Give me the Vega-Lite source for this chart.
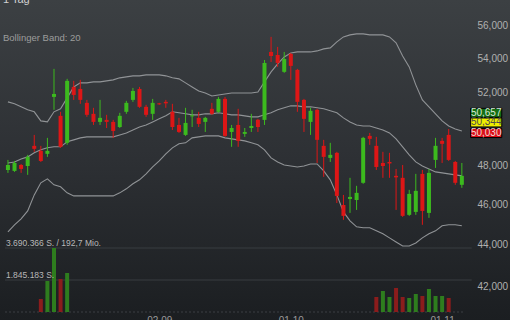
{
"$schema": "https://vega.github.io/schema/vega-lite/v6.json",
"width": 510, "height": 320, "autosize": {"type": "none"}, "padding": 0,
"background": "#1f2225",
"config": {"view": {"stroke": null, "fill": {"gradient": "linear", "x1": 0, "y1": 0, "x2": 0, "y2": 1, "stops": [{"offset": 0, "color": "#3c4043"}, {"offset": 0.5, "color": "#2d3034"}, {"offset": 1, "color": "#1b1e21"}]}}, "font": "Liberation Sans"},
"title": {"text": "1 Tag", "subtitle": "Bollinger Band: 20", "anchor": "start", "frame": "group", "offset": -42, "dx": 3, "fontSize": 11, "fontWeight": "normal", "color": "#d0d0d0", "subtitleColor": "#9c9c9c", "subtitleFontSize": 9.5, "subtitlePadding": 28, "font": "Liberation Sans", "subtitleFont": "Liberation Sans"},
"datasets": {
"candles": [
{"i":0,"o":47762,"h":48289,"l":47607,"c":48020,"u":51468,"m":48128,"b":44622},
{"i":1,"o":47710,"h":48235,"l":47659,"c":48128,"u":51356,"m":48182,"b":44968},
{"i":2,"o":48020,"h":48074,"l":47607,"c":47814,"u":51188,"m":48343,"b":45264},
{"i":3,"o":47969,"h":48558,"l":47504,"c":48451,"u":51020,"m":48451,"b":45659},
{"i":4,"o":49042,"h":49634,"l":48720,"c":48881,"u":50908,"m":48666,"b":46469},
{"i":5,"o":48773,"h":49042,"l":48182,"c":48235,"u":50404,"m":48827,"b":47090},
{"i":6,"o":48612,"h":49473,"l":48451,"c":48773,"u":50348,"m":48935,"b":47297},
{"i":7,"o":51748,"h":53367,"l":51020,"c":51916,"u":50908,"m":48989,"b":46987},
{"i":8,"o":50684,"h":50908,"l":48935,"c":48989,"u":51076,"m":48989,"b":46883},
{"i":9,"o":49204,"h":52786,"l":49096,"c":52669,"u":51692,"m":49258,"b":46573},
{"i":10,"o":52320,"h":52669,"l":51580,"c":51860,"u":52320,"m":49365,"b":46418},
{"i":11,"o":52204,"h":52727,"l":51356,"c":51580,"u":52553,"m":49473,"b":46418},
{"i":12,"o":51412,"h":51580,"l":50628,"c":50740,"u":52553,"m":49527,"b":46418},
{"i":13,"o":50796,"h":51132,"l":50180,"c":50348,"u":52611,"m":49527,"b":46418},
{"i":14,"o":50348,"h":51580,"l":50180,"c":50572,"u":52611,"m":49527,"b":46418},
{"i":15,"o":50460,"h":50740,"l":50012,"c":50348,"u":52669,"m":49527,"b":46418},
{"i":16,"o":50348,"h":50460,"l":49473,"c":49849,"u":52727,"m":49527,"b":46418},
{"i":17,"o":50068,"h":50852,"l":50012,"c":50684,"u":52844,"m":49634,"b":46573},
{"i":18,"o":50908,"h":51524,"l":50796,"c":51412,"u":52902,"m":49742,"b":46780},
{"i":19,"o":51580,"h":52262,"l":51468,"c":52088,"u":52960,"m":49903,"b":47038},
{"i":20,"o":52204,"h":52320,"l":51132,"c":51188,"u":52960,"m":50068,"b":47245},
{"i":21,"o":51188,"h":51300,"l":50628,"c":50740,"u":53018,"m":50180,"b":47555},
{"i":22,"o":50796,"h":51636,"l":50460,"c":51412,"u":53018,"m":50348,"b":47917},
{"i":23,"o":51384,"h":51412,"l":51300,"c":51328,"u":53018,"m":50516,"b":48235},
{"i":24,"o":51468,"h":51580,"l":51132,"c":51384,"u":52960,"m":50684,"b":48612},
{"i":25,"o":50908,"h":51356,"l":49903,"c":50068,"u":52844,"m":50908,"b":48935},
{"i":26,"o":50180,"h":50572,"l":49742,"c":49795,"u":52786,"m":50852,"b":49150},
{"i":27,"o":49634,"h":51132,"l":49580,"c":50292,"u":52553,"m":50796,"b":49204},
{"i":28,"o":50656,"h":51020,"l":50068,"c":50712,"u":52320,"m":50740,"b":49473},
{"i":29,"o":50572,"h":50908,"l":50068,"c":50236,"u":52088,"m":50740,"b":49527},
{"i":30,"o":50348,"h":50628,"l":49795,"c":50572,"u":51972,"m":50796,"b":49580},
{"i":31,"o":51076,"h":51412,"l":50740,"c":50796,"u":51804,"m":50796,"b":49580},
{"i":32,"o":50908,"h":51748,"l":50852,"c":51636,"u":51860,"m":50852,"b":49580},
{"i":33,"o":51636,"h":51748,"l":49527,"c":49580,"u":51916,"m":50796,"b":49473},
{"i":34,"o":49795,"h":50180,"l":48989,"c":50012,"u":51972,"m":50740,"b":49419},
{"i":35,"o":50180,"h":51076,"l":48989,"c":49311,"u":51972,"m":50740,"b":49365},
{"i":36,"o":49688,"h":50012,"l":49527,"c":49795,"u":51972,"m":50684,"b":49311},
{"i":37,"o":50012,"h":50796,"l":49795,"c":50124,"u":51972,"m":50628,"b":49204},
{"i":38,"o":50460,"h":50516,"l":49795,"c":50068,"u":52030,"m":50628,"b":49096},
{"i":39,"o":50460,"h":53890,"l":50180,"c":53715,"u":52611,"m":50740,"b":48827},
{"i":40,"o":54369,"h":55275,"l":53773,"c":54127,"u":53192,"m":50852,"b":48397},
{"i":41,"o":54188,"h":54671,"l":53483,"c":53715,"u":53657,"m":51020,"b":48182},
{"i":42,"o":53192,"h":54369,"l":53134,"c":53948,"u":54067,"m":51132,"b":48020},
{"i":43,"o":54248,"h":54309,"l":52727,"c":53541,"u":54309,"m":51244,"b":47969},
{"i":44,"o":53309,"h":53367,"l":50908,"c":51468,"u":54369,"m":51244,"b":47917},
{"i":45,"o":51580,"h":51636,"l":49795,"c":50516,"u":54369,"m":51188,"b":47969},
{"i":46,"o":50348,"h":51132,"l":49634,"c":50964,"u":54369,"m":51188,"b":48074},
{"i":47,"o":51020,"h":51076,"l":48128,"c":49365,"u":54430,"m":51132,"b":48074},
{"i":48,"o":49042,"h":49365,"l":47400,"c":48451,"u":54550,"m":51076,"b":47710},
{"i":49,"o":48397,"h":49204,"l":48182,"c":48558,"u":54611,"m":50964,"b":47245},
{"i":50,"o":48666,"h":48720,"l":46056,"c":46418,"u":54973,"m":50852,"b":46469},
{"i":51,"o":45956,"h":46469,"l":45215,"c":45412,"u":55275,"m":50572,"b":45610},
{"i":52,"o":46263,"h":47349,"l":45560,"c":46366,"u":55396,"m":50348,"b":45165},
{"i":53,"o":46211,"h":46935,"l":45709,"c":46573,"u":55456,"m":50180,"b":44869},
{"i":54,"o":47090,"h":49527,"l":47038,"c":49473,"u":55456,"m":50124,"b":44820},
{"i":55,"o":49580,"h":49742,"l":49096,"c":49419,"u":55396,"m":50124,"b":44820},
{"i":56,"o":49042,"h":49527,"l":47762,"c":47917,"u":55396,"m":50012,"b":44672},
{"i":57,"o":48128,"h":48720,"l":47349,"c":47969,"u":55396,"m":49903,"b":44524},
{"i":58,"o":48182,"h":48666,"l":47349,"c":48101,"u":55275,"m":49742,"b":44326},
{"i":59,"o":47452,"h":47814,"l":45709,"c":47374,"u":54913,"m":49419,"b":44128},
{"i":60,"o":47349,"h":48020,"l":45363,"c":45412,"u":54127,"m":48989,"b":43934},
{"i":61,"o":45462,"h":46728,"l":45412,"c":46521,"u":53483,"m":48558,"b":43934},
{"i":62,"o":45610,"h":47555,"l":45462,"c":46676,"u":52437,"m":48182,"b":44079},
{"i":63,"o":47555,"h":47762,"l":44968,"c":45659,"u":51580,"m":47969,"b":44326},
{"i":64,"o":45560,"h":47814,"l":45313,"c":47607,"u":51188,"m":47814,"b":44524},
{"i":65,"o":48289,"h":49473,"l":47866,"c":49042,"u":50796,"m":47659,"b":44672},
{"i":66,"o":49311,"h":49473,"l":48128,"c":49150,"u":50404,"m":47607,"b":44919},
{"i":67,"o":49634,"h":49957,"l":48235,"c":48289,"u":50124,"m":47555,"b":44968},
{"i":68,"o":48182,"h":48235,"l":46987,"c":47090,"u":49957,"m":47504,"b":44968},
{"i":69,"o":46987,"h":48128,"l":46831,"c":47452,"u":49849,"m":47452,"b":44919}
],
"vol": [
{"i":5,"v":749600,"d":"down"},{"i":6,"v":1787500,"d":"up"},{"i":7,"v":3690366,"d":"up"},{"i":8,"v":1902800,"d":"down"},{"i":9,"v":2248800,"d":"up"},
{"i":56,"v":864900,"d":"down"},{"i":57,"v":1210900,"d":"up"},{"i":58,"v":864900,"d":"up"},{"i":59,"v":1383900,"d":"down"},{"i":60,"v":864900,"d":"down"},{"i":61,"v":807300,"d":"up"},{"i":62,"v":1037900,"d":"up"},{"i":63,"v":922600,"d":"down"},{"i":64,"v":1326200,"d":"up"},{"i":65,"v":922600,"d":"up"},{"i":66,"v":922600,"d":"up"},{"i":67,"v":807300,"d":"down"}
],
"vlines": [
{"v":3690366,"t":"3.690.366 S. / 192,7 Mio.","x0":-0.447,"x1":70.5},{"v":1845183,"t":"1.845.183 S.","x0":-0.447,"x1":70.5}
]
},
"layer": [
{"data": {"name": "candles"}, "layer": [
 {"mark": {"type": "line", "color": "#909396", "strokeWidth": 1.1},
  "encoding": {
   "x": {"field": "i", "type": "quantitative", "scale": {"domain": [-0.447, 75.56], "nice": false, "zero": false}, "axis": {"values": [23, 43, 66], "labelExpr": "datum.value == 23 ? '02.09' : datum.value == 43 ? '01.10' : '01.11'", "orient": "bottom", "offset": -5, "labelPadding": 0, "labelBaseline": "top", "domain": false, "ticks": false, "grid": false, "labelColor": "#9a9a9a", "labelFontSize": 10, "title": null, "labelFlush": false, "labelOverlap": false}},
   "y": {"field": "u", "type": "quantitative", "scale": {"type": "log", "domain": [40505, 57559], "nice": false, "zero": false}, "axis": {"orient": "right", "offset": -44, "labelPadding": 11, "values": [42000, 44000, 46000, 48000, 52000, 54000, 56000], "format": ",d", "domain": false, "ticks": false, "grid": false, "labelColor": "#b0b0b0", "labelFontSize": 10, "title": null, "labelFlush": false, "labelOverlap": false}}}},
 {"mark": {"type": "line", "color": "#909396", "strokeWidth": 1.1},
  "encoding": {
   "x": {"field": "i", "type": "quantitative", "scale": {"domain": [-0.447, 75.56], "nice": false, "zero": false}, "axis": {"values": [23, 43, 66], "labelExpr": "datum.value == 23 ? '02.09' : datum.value == 43 ? '01.10' : '01.11'", "orient": "bottom", "offset": -5, "labelPadding": 0, "labelBaseline": "top", "domain": false, "ticks": false, "grid": false, "labelColor": "#9a9a9a", "labelFontSize": 10, "title": null, "labelFlush": false, "labelOverlap": false}},
   "y": {"field": "m", "type": "quantitative", "scale": {"type": "log", "domain": [40505, 57559], "nice": false, "zero": false}, "axis": {"orient": "right", "offset": -44, "labelPadding": 11, "values": [42000, 44000, 46000, 48000, 52000, 54000, 56000], "format": ",d", "domain": false, "ticks": false, "grid": false, "labelColor": "#b0b0b0", "labelFontSize": 10, "title": null, "labelFlush": false, "labelOverlap": false}}}},
 {"mark": {"type": "line", "color": "#909396", "strokeWidth": 1.1},
  "encoding": {
   "x": {"field": "i", "type": "quantitative", "scale": {"domain": [-0.447, 75.56], "nice": false, "zero": false}, "axis": {"values": [23, 43, 66], "labelExpr": "datum.value == 23 ? '02.09' : datum.value == 43 ? '01.10' : '01.11'", "orient": "bottom", "offset": -5, "labelPadding": 0, "labelBaseline": "top", "domain": false, "ticks": false, "grid": false, "labelColor": "#9a9a9a", "labelFontSize": 10, "title": null, "labelFlush": false, "labelOverlap": false}},
   "y": {"field": "b", "type": "quantitative", "scale": {"type": "log", "domain": [40505, 57559], "nice": false, "zero": false}, "axis": {"orient": "right", "offset": -44, "labelPadding": 11, "values": [42000, 44000, 46000, 48000, 52000, 54000, 56000], "format": ",d", "domain": false, "ticks": false, "grid": false, "labelColor": "#b0b0b0", "labelFontSize": 10, "title": null, "labelFlush": false, "labelOverlap": false}}}},
 {"mark": {"type": "rule", "strokeWidth": 1},
  "encoding": {
   "x": {"field": "i", "type": "quantitative", "scale": {"domain": [-0.447, 75.56], "nice": false, "zero": false}, "axis": {"values": [23, 43, 66], "labelExpr": "datum.value == 23 ? '02.09' : datum.value == 43 ? '01.10' : '01.11'", "orient": "bottom", "offset": -5, "labelPadding": 0, "labelBaseline": "top", "domain": false, "ticks": false, "grid": false, "labelColor": "#9a9a9a", "labelFontSize": 10, "title": null, "labelFlush": false, "labelOverlap": false}},
   "y": {"field": "l", "type": "quantitative", "scale": {"type": "log", "domain": [40505, 57559], "nice": false, "zero": false}, "axis": {"orient": "right", "offset": -44, "labelPadding": 11, "values": [42000, 44000, 46000, 48000, 52000, 54000, 56000], "format": ",d", "domain": false, "ticks": false, "grid": false, "labelColor": "#b0b0b0", "labelFontSize": 10, "title": null, "labelFlush": false, "labelOverlap": false}},
   "y2": {"field": "h"},
   "color": {"condition": {"test": "datum.c >= datum.o", "value": "#3cba1e"}, "value": "#dd1616"}}},
 {"mark": {"type": "bar", "width": 4},
  "encoding": {
   "x": {"field": "i", "type": "quantitative", "scale": {"domain": [-0.447, 75.56], "nice": false, "zero": false}, "axis": {"values": [23, 43, 66], "labelExpr": "datum.value == 23 ? '02.09' : datum.value == 43 ? '01.10' : '01.11'", "orient": "bottom", "offset": -5, "labelPadding": 0, "labelBaseline": "top", "domain": false, "ticks": false, "grid": false, "labelColor": "#9a9a9a", "labelFontSize": 10, "title": null, "labelFlush": false, "labelOverlap": false}},
   "y": {"field": "o", "type": "quantitative", "scale": {"type": "log", "domain": [40505, 57559], "nice": false, "zero": false}, "axis": {"orient": "right", "offset": -44, "labelPadding": 11, "values": [42000, 44000, 46000, 48000, 52000, 54000, 56000], "format": ",d", "domain": false, "ticks": false, "grid": false, "labelColor": "#b0b0b0", "labelFontSize": 10, "title": null, "labelFlush": false, "labelOverlap": false}},
   "y2": {"field": "c"},
   "color": {"condition": {"test": "datum.c >= datum.o", "value": "#3cba1e"}, "value": "#dd1616"}}},
 {"data": {"values": [{"p":50657,"t":"50,657"},{"p":50344,"t":"50,344"},{"p":50030,"t":"50,030"}]},
  "layer": [
   {"mark": {"type": "rect", "stroke": "#000000", "strokeWidth": 1,
     "yOffset": {"expr": "datum.p == 50657 ? -8 : datum.p == 50344 ? -4 : 0.9"},
     "y2Offset": {"expr": "datum.p == 50657 ? 1 : datum.p == 50344 ? 5 : 9.9"},
     "fill": {"expr": "datum.p == 50657 ? '#146e14' : datum.p == 50344 ? '#eeee00' : '#dc1018'"}},
    "encoding": {
     "x": {"datum": 70.34, "type": "quantitative", "scale": {"domain": [-0.447, 75.56], "nice": false, "zero": false}, "axis": {"values": [23, 43, 66], "labelExpr": "datum.value == 23 ? '02.09' : datum.value == 43 ? '01.10' : '01.11'", "orient": "bottom", "offset": -5, "labelPadding": 0, "labelBaseline": "top", "domain": false, "ticks": false, "grid": false, "labelColor": "#9a9a9a", "labelFontSize": 10, "title": null, "labelFlush": false, "labelOverlap": false}},
     "x2": {"datum": 75.07},
     "y": {"field": "p", "type": "quantitative", "scale": {"type": "log", "domain": [40505, 57559], "nice": false, "zero": false}, "axis": {"orient": "right", "offset": -44, "labelPadding": 11, "values": [42000, 44000, 46000, 48000, 52000, 54000, 56000], "format": ",d", "domain": false, "ticks": false, "grid": false, "labelColor": "#b0b0b0", "labelFontSize": 10, "title": null, "labelFlush": false, "labelOverlap": false}},
     "y2": {"field": "p"}}},
   {"mark": {"type": "text", "fontSize": 10, "baseline": "middle", "align": "center",
     "dy": {"expr": "datum.p == 50657 ? -3.5 : datum.p == 50344 ? 0.5 : 5.4"},
     "fill": {"expr": "datum.p == 50657 ? '#d8e8d8' : datum.p == 50344 ? '#4a4a4a' : '#f2d6d6'"}},
    "encoding": {
     "x": {"datum": 72.7, "type": "quantitative", "scale": {"domain": [-0.447, 75.56], "nice": false, "zero": false}, "axis": {"values": [23, 43, 66], "labelExpr": "datum.value == 23 ? '02.09' : datum.value == 43 ? '01.10' : '01.11'", "orient": "bottom", "offset": -5, "labelPadding": 0, "labelBaseline": "top", "domain": false, "ticks": false, "grid": false, "labelColor": "#9a9a9a", "labelFontSize": 10, "title": null, "labelFlush": false, "labelOverlap": false}},
     "y": {"field": "p", "type": "quantitative", "scale": {"type": "log", "domain": [40505, 57559], "nice": false, "zero": false}, "axis": {"orient": "right", "offset": -44, "labelPadding": 11, "values": [42000, 44000, 46000, 48000, 52000, 54000, 56000], "format": ",d", "domain": false, "ticks": false, "grid": false, "labelColor": "#b0b0b0", "labelFontSize": 10, "title": null, "labelFlush": false, "labelOverlap": false}},
     "text": {"field": "t"}}}
  ]}
]},
{"layer": [
 {"data": {"name": "vlines"}, "mark": {"type": "rule", "color": "#393c40", "strokeWidth": 1},
  "encoding": {
   "x": {"field": "x0", "type": "quantitative", "scale": {"domain": [-0.447, 75.56], "nice": false, "zero": false}, "axis": {"values": [23, 43, 66], "labelExpr": "datum.value == 23 ? '02.09' : datum.value == 43 ? '01.10' : '01.11'", "orient": "bottom", "offset": -5, "labelPadding": 0, "labelBaseline": "top", "domain": false, "ticks": false, "grid": false, "labelColor": "#9a9a9a", "labelFontSize": 10, "title": null, "labelFlush": false, "labelOverlap": false}},
   "x2": {"field": "x1"},
   "y": {"field": "v", "type": "quantitative", "scale": {"domain": [-461296, 17990534], "nice": false, "zero": false}, "axis": null}}},
 {"data": {"values": [{"v": 0, "x0": -0.447, "x1": 69.3}]}, "mark": {"type": "rule", "color": "#3a3e42", "strokeWidth": 1, "strokeDash": [2, 2]},
  "encoding": {
   "x": {"field": "x0", "type": "quantitative", "scale": {"domain": [-0.447, 75.56], "nice": false, "zero": false}, "axis": {"values": [23, 43, 66], "labelExpr": "datum.value == 23 ? '02.09' : datum.value == 43 ? '01.10' : '01.11'", "orient": "bottom", "offset": -5, "labelPadding": 0, "labelBaseline": "top", "domain": false, "ticks": false, "grid": false, "labelColor": "#9a9a9a", "labelFontSize": 10, "title": null, "labelFlush": false, "labelOverlap": false}},
   "x2": {"field": "x1"},
   "y": {"field": "v", "type": "quantitative", "scale": {"domain": [-461296, 17990534], "nice": false, "zero": false}, "axis": null}}},
 {"data": {"name": "vol"}, "mark": {"type": "bar", "width": 4},
  "encoding": {
   "x": {"field": "i", "type": "quantitative", "scale": {"domain": [-0.447, 75.56], "nice": false, "zero": false}, "axis": {"values": [23, 43, 66], "labelExpr": "datum.value == 23 ? '02.09' : datum.value == 43 ? '01.10' : '01.11'", "orient": "bottom", "offset": -5, "labelPadding": 0, "labelBaseline": "top", "domain": false, "ticks": false, "grid": false, "labelColor": "#9a9a9a", "labelFontSize": 10, "title": null, "labelFlush": false, "labelOverlap": false}},
   "y": {"field": "v", "type": "quantitative", "scale": {"domain": [-461296, 17990534], "nice": false, "zero": false}, "axis": null},
   "y2": {"datum": 0},
   "color": {"field": "d", "type": "nominal", "scale": {"domain": ["up", "down"], "range": ["#2e7d1e", "#8b1c1c"]}, "legend": null}}},
 {"data": {"name": "vlines"}, "mark": {"type": "text", "color": "#b8b8b8", "fontSize": 8.5, "align": "left", "baseline": "alphabetic", "dx": 1, "dy": -2},
  "encoding": {
   "x": {"field": "x0", "type": "quantitative", "scale": {"domain": [-0.447, 75.56], "nice": false, "zero": false}, "axis": {"values": [23, 43, 66], "labelExpr": "datum.value == 23 ? '02.09' : datum.value == 43 ? '01.10' : '01.11'", "orient": "bottom", "offset": -5, "labelPadding": 0, "labelBaseline": "top", "domain": false, "ticks": false, "grid": false, "labelColor": "#9a9a9a", "labelFontSize": 10, "title": null, "labelFlush": false, "labelOverlap": false}},
   "y": {"field": "v", "type": "quantitative", "scale": {"domain": [-461296, 17990534], "nice": false, "zero": false}, "axis": null},
   "text": {"field": "t"}}}
]}
],
"resolve": {"scale": {"y": "independent"}}
}
